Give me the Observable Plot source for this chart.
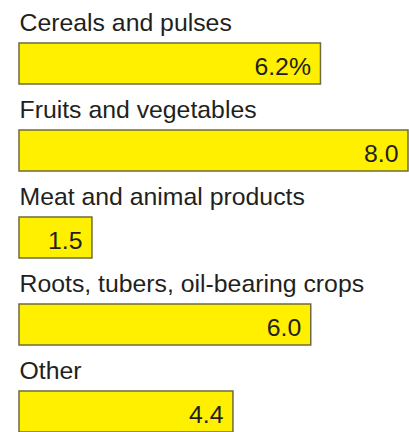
<!DOCTYPE html>
<html><head><meta charset="utf-8">
<script src="https://cdn.jsdelivr.net/npm/d3@7"></script>
<script src="https://cdn.jsdelivr.net/npm/@observablehq/plot@0.6"></script>
<style>html,body{margin:0;padding:0;background:#fff;overflow:hidden;}</style>
</head><body><div id="chart"></div>
<script>
const categories = ["Cereals and pulses", "Fruits and vegetables", "Meat and animal products", "Roots, tubers, oil-bearing crops", "Other"];
const values = [6.2, 8.0, 1.5, 6.0, 4.4];
const valueLabels = ["6.2%", "8.0", "1.5", "6.0", "4.4"];

const data = categories.map((c, i) => ({category: c, value: values[i], label: valueLabels[i]}));

const chart = Plot.plot({
  width: 409,
  height: 432,
  margin: 0,
  style: {fontFamily: "'Liberation Sans', Arial, sans-serif", background: "#fff", overflow: "hidden"},
  x: {domain: [0, 8], range: [19, 408], axis: null},
  y: {domain: categories, range: [42.7, 433.2], paddingInner: 0.5244, paddingOuter: 0, axis: null},
  marks: [
    Plot.barX(data, {x: "value", y: "category", fill: "#FFF000", stroke: "#6f6b3c", strokeWidth: 1.5}),
    Plot.text(data, {x: 0, y: "category", text: "category", textAnchor: "start", lineAnchor: "bottom", dy: -33.5, fontSize: 24.8, fill: "#231f20"}),
    Plot.text(data, {x: "value", y: "category", text: "label", textAnchor: "end", lineAnchor: "bottom", dx: -10, dy: 10.5, fontSize: 24.8, fill: "#231f20"})
  ]
});
document.getElementById("chart").appendChild(chart);
</script>
</body></html>
